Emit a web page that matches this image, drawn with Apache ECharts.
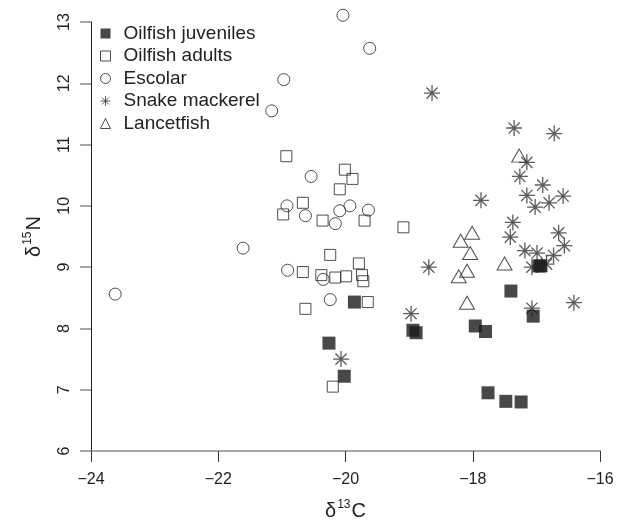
<!DOCTYPE html>
<html lang="en">
<head>
    <meta charset="UTF-8">
    <title>d13C vs d15N</title>
    <script src="https://cdn.jsdelivr.net/npm/echarts@6/dist/echarts.min.js"></script>
    <style>
        *{
            margin: 0;
            padding: 0;
        }
        .container{
            width: 620px;
            height: 527px;
            background: #fff;
        }
    </style>
</head>
<body>
<div class="container"></div>
<script>
    // values: d13C (x) and d15N (y) per group
    let juvenilesX = [-19.86, -20.26, -20.02, -18.94, -18.89, -17.96, -17.80, -17.76, -17.48, -17.24, -17.40, -17.05, -16.96, -16.93]
    let juvenilesY = [8.43, 7.76, 7.22, 7.97, 7.93, 8.04, 7.95, 6.95, 6.81, 6.80, 8.61, 8.20, 9.02, 9.02]

    let adultsX = [-20.93, -20.01, -19.89, -20.09, -20.67, -20.98, -20.36, -19.70, -19.09, -20.24, -19.79, -20.67, -20.38, -20.16, -19.99, -19.74, -19.72, -19.65, -20.63, -20.20]
    let adultsY = [10.81, 10.59, 10.44, 10.27, 10.05, 9.86, 9.76, 9.76, 9.65, 9.20, 9.06, 8.92, 8.87, 8.83, 8.85, 8.87, 8.77, 8.43, 8.32, 7.05]

    let escolarX = [-20.04, -19.62, -20.97, -21.16, -20.54, -20.92, -19.93, -20.63, -20.09, -19.64, -20.16, -21.61, -20.91, -20.35, -20.24, -23.62]
    let escolarY = [13.11, 12.57, 12.06, 11.55, 10.48, 10.00, 10.00, 9.84, 9.92, 9.93, 9.71, 9.31, 8.95, 8.80, 8.47, 8.56]

    let mackerelX = [-18.64, -17.35, -16.72, -17.15, -17.26, -16.90, -17.87, -17.15, -17.02, -16.80, -16.58, -17.37, -17.41, -16.65, -16.56, -17.18, -16.99, -16.73, -17.07, -16.84, -18.69, -18.97, -17.07, -16.41, -20.07]
    let mackerelY = [11.84, 11.27, 11.18, 10.71, 10.48, 10.34, 10.09, 10.17, 9.98, 10.05, 10.16, 9.73, 9.49, 9.56, 9.35, 9.27, 9.23, 9.19, 9.00, 9.05, 9.00, 8.24, 8.33, 8.42, 7.50]

    let lancetX = [-17.27, -18.01, -18.19, -18.04, -17.50, -18.09, -18.22, -18.09]
    let lancetY = [10.82, 9.56, 9.43, 9.23, 9.06, 8.94, 8.85, 8.42]

    let names = ['Oilfish juveniles', 'Oilfish adults', 'Escolar', 'Snake mackerel', 'Lancetfish']
    let xTicks = [-24, -22, -20, -18, -16]
    let yTicks = [6, 7, 8, 9, 10, 11, 12, 13]

    const pair = (xs, ys) => xs.map((x, i) => [x, ys[i]])
    const asterisk = 'path://M0,5L10,5M5,0L5,10M1.5,1.5L8.5,8.5M8.5,1.5L1.5,8.5'
    const font = 'Liberation Sans, Arial, Helvetica, sans-serif'

    // axis titles with a real superscript
    const titleRich = {
        d: {fontFamily: font, fontSize: 20, color: '#222'},
        s: {fontFamily: font, fontSize: 12, color: '#222', padding: [0, 1, 13, 1]}
    }

    let container = document.querySelector('.container')
    let chart = echarts.init(container, null, {renderer: 'canvas'})

    let open = {color: 'transparent', borderColor: '#222', borderWidth: 1}

    let option = {
        animation: false,
        backgroundColor: '#fff',
        grid: {left: 91, right: 20, top: 22, bottom: 76},
        legend: {
            orient: 'vertical',
            left: 100,
            top: 24,
            padding: 0,
            itemWidth: 10,
            itemHeight: 10,
            itemGap: 3.5,
            selectedMode: false,
            data: names,
            itemStyle: {borderWidth: 1},
            textStyle: {fontFamily: font, fontSize: 19, lineHeight: 19, color: '#222', padding: [0, 0, 0, 8]}
        },
        xAxis: {
            type: 'value',
            min: xTicks[0],
            max: xTicks[xTicks.length - 1],
            interval: 2,
            name: '{d|δ}{s|13}{d|C}',
            nameLocation: 'middle',
            nameGap: 48,
            nameTextStyle: {rich: titleRich},
            axisLine: {show: true, lineStyle: {color: '#8a8a8a', width: 1.5}},
            axisTick: {show: true, length: 11, lineStyle: {color: '#333'}},
            axisLabel: {
                margin: 21, fontFamily: font, fontSize: 16, color: '#222',
                formatter: v => String(v).replace('-', '\u2212')
            },
            splitLine: {show: false}
        },
        yAxis: {
            type: 'value',
            min: yTicks[0],
            max: yTicks[yTicks.length - 1],
            interval: 1,
            name: '{d|δ}{s|15}{d|N}',
            nameLocation: 'middle',
            nameGap: 44,
            nameTextStyle: {rich: titleRich},
            axisLine: {show: true, lineStyle: {color: '#222', width: 1}},
            axisTick: {show: true, length: 11, lineStyle: {color: '#8a8a8a', width: 1.5}},
            axisLabel: {margin: 18, rotate: 90, fontFamily: font, fontSize: 16, color: '#222'},
            splitLine: {show: false}
        },
        series: [
            {
                name: names[0], type: 'scatter', z: 4, clip: false,
                symbol: 'rect', symbolSize: 13,
                itemStyle: {color: '#1a1a1a'},
                data: pair(juvenilesX, juvenilesY)
            },
            {
                name: names[1], type: 'scatter', clip: false,
                symbol: 'rect', symbolSize: 11,
                itemStyle: open,
                data: pair(adultsX, adultsY)
            },
            {
                name: names[2], type: 'scatter', clip: false,
                symbol: 'circle', symbolSize: 12,
                itemStyle: open,
                data: pair(escolarX, escolarY)
            },
            {
                name: names[3], type: 'scatter', clip: false,
                symbol: asterisk, symbolSize: 16,
                itemStyle: {color: 'transparent', borderColor: '#333', borderWidth: 1.3},
                data: pair(mackerelX, mackerelY)
            },
            {
                name: names[4], type: 'scatter', clip: false,
                symbol: 'triangle', symbolSize: [15, 13],
                itemStyle: open,
                data: pair(lancetX, lancetY)
            }
        ]
    }

    chart.setOption(option)
</script>
</body>
</html>
